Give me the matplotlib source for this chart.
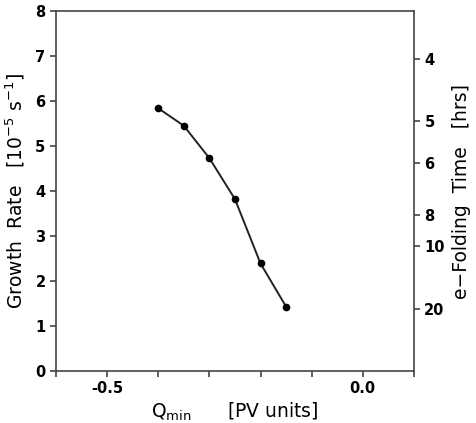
import numpy as np
import matplotlib
matplotlib.use('Agg')
import matplotlib.pyplot as plt

# Q_min [PV units] and growth rate [1e-5 s^-1]
q_min = [-0.40, -0.35, -0.30, -0.25, -0.20, -0.15]
growth = [5.84, 5.45, 4.73, 3.82, 2.39, 1.43]

# x ticks (labelled only at -0.5 and 0.0)
x_ticks = [-0.6, -0.5, -0.4, -0.3, -0.2, -0.1, 0.0, 0.1]
x_labels = ['', '-0.5', '', '', '', '', '0.0', '']

# e-folding time tick labels [hrs]
efold_hrs = [4, 5, 6, 8, 10, 20]

plt.rcParams['font.family'] = 'DejaVu Sans'
plt.rcParams['mathtext.default'] = 'regular'

fig = plt.figure(figsize=(4.76, 4.23), dpi=100)
ax = fig.add_axes([0.1176, 0.1229, 0.752, 0.851])

ax.plot(q_min, growth, color='#222222', lw=1.4, marker='o', ms=4.5,
        mfc='black', mec='black')

ax.set_xlim(-0.6, 0.1)
ax.set_ylim(0, 8)
ax.set_xticks(x_ticks)
ax.set_xticklabels(x_labels, fontweight='bold')
ax.set_yticks(range(0, 9))
for lab in ax.get_yticklabels():
    lab.set_fontweight('bold')

for s in ax.spines.values():
    s.set_color('#444444')
    s.set_linewidth(1.2)
ax.tick_params(direction='out', length=4, width=1.2, color='#444444', labelsize=10.5)

ax.set_xlabel(r'Q$_{min}$      [PV units]', fontsize=13.5, labelpad=3)
ax.set_ylabel(r'Growth  Rate   [10$^{-5}$ s$^{-1}$]', fontsize=13.5, labelpad=6)

# right axis: e-folding time = 1/sigma
ax2 = ax.twinx()
ax2.set_ylim(0, 8)
ax2.set_yticks([1e5 / 3600.0 / t for t in efold_hrs])
ax2.set_yticklabels([str(t) for t in efold_hrs], fontweight='bold')
for s in ax2.spines.values():
    s.set_visible(False)
ax2.tick_params(direction='out', length=4, width=1.2, color='#444444', labelsize=10.5)
ax2.set_ylabel('e\u2212Folding  Time   [hrs]', fontsize=13.5, labelpad=5)

plt.savefig('out.png', dpi=100)
